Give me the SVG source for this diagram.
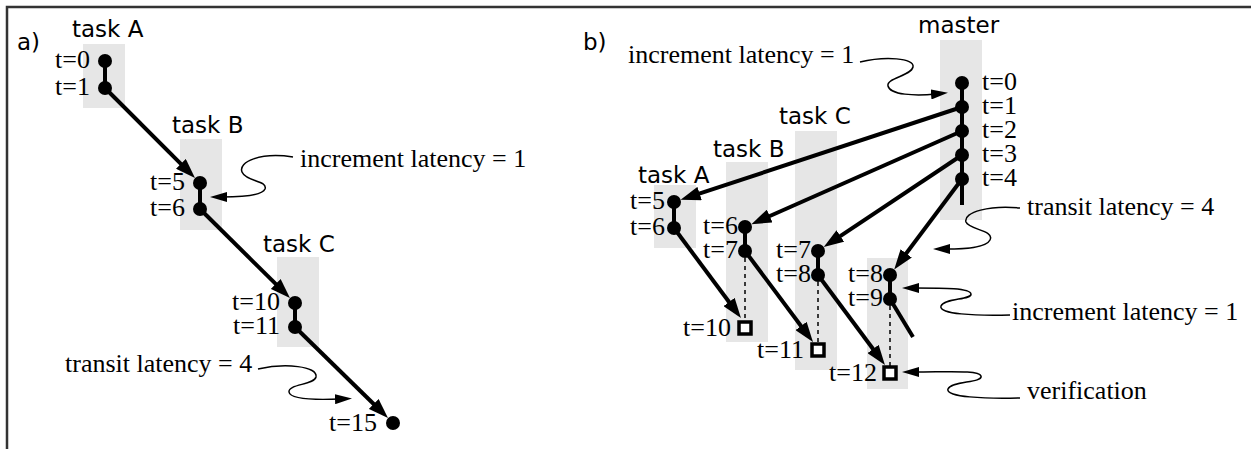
<svg xmlns="http://www.w3.org/2000/svg" width="1251" height="449" viewBox="0 0 1251 449">
<style>
.bg{fill:#e6e6e6}
.dot{fill:#000}
.sq{fill:#fff;stroke:#000;stroke-width:3.5}
.seg{stroke:#000;stroke-width:4;fill:none}
.arr{stroke:#000;stroke-width:4;fill:none;marker-end:url(#big)}
.thin{stroke:#000;stroke-width:1.5;fill:none;marker-end:url(#small)}
.dash{stroke:#000;stroke-width:1.5;stroke-dasharray:4 4;fill:none}
.t{font-family:"Liberation Serif","Times New Roman",serif;font-size:26px;fill:#000}
.e{text-anchor:end}
.s{font-family:"DejaVu Sans",sans-serif;font-size:23px;fill:#000}
.frame{stroke:#333;stroke-width:2.5;fill:none}
</style>
<defs>
<marker id="big" viewBox="0 0 20 14" markerWidth="20" markerHeight="14" refX="6" refY="7" orient="auto" markerUnits="userSpaceOnUse">
<path d="M0,0 L20,7 L0,14 Z" fill="#000"/>
</marker>
<marker id="small" viewBox="0 0 17 10" markerWidth="17" markerHeight="10" refX="5" refY="5" orient="auto" markerUnits="userSpaceOnUse">
<path d="M0,0 L17,5 L0,10 Z" fill="#000"/>
</marker>
</defs>
<rect width="1251" height="449" fill="#fff"/>
<path class="frame" d="M7,449 L7,7 L1251,7"/>
<g id="panel-labels">
<text class="s" x="17" y="50">a)</text>
<text class="s" x="583" y="50">b)</text>
</g>
<!-- panel a nodes -->
<g id="a-taskA">
<rect class="bg" x="83" y="44" width="42" height="64"/>
<text class="s" x="72" y="37">task A</text>
<line class="seg" x1="105" y1="61" x2="105" y2="88"/>
<circle class="dot" cx="105" cy="61" r="7"/>
<circle class="dot" cx="105" cy="88" r="7"/>
<text class="t e" x="90" y="68">t=0</text>
<text class="t e" x="90" y="95">t=1</text>
</g>
<g id="a-taskB">
<rect class="bg" x="180" y="139" width="42" height="91"/>
<text class="s" x="172" y="133">task B</text>
<line class="seg" x1="200" y1="183" x2="200" y2="209"/>
<circle class="dot" cx="200" cy="183" r="7"/>
<circle class="dot" cx="200" cy="209" r="7"/>
<text class="t e" x="185" y="190">t=5</text>
<text class="t e" x="185" y="216">t=6</text>
</g>
<g id="a-taskC">
<rect class="bg" x="277" y="257" width="42" height="90"/>
<text class="s" x="263" y="252">task C</text>
<line class="seg" x1="295" y1="303" x2="295" y2="327"/>
<circle class="dot" cx="295" cy="303" r="7"/>
<circle class="dot" cx="295" cy="327" r="7"/>
<text class="t e" x="280" y="310">t=10</text>
<text class="t e" x="280" y="334">t=11</text>
</g>
<g id="a-end">
<circle class="dot" cx="393" cy="423" r="7"/>
<text class="t e" x="377" y="431">t=15</text>
</g>
<!-- panel b nodes -->
<g id="b-master">
<rect class="bg" x="940" y="40" width="42" height="180"/>
<text class="s" x="918" y="33">master</text>
<line class="seg" x1="962" y1="83" x2="962" y2="205"/>
<circle class="dot" cx="962" cy="83" r="7"/>
<circle class="dot" cx="962" cy="107" r="7"/>
<circle class="dot" cx="962" cy="131" r="7"/>
<circle class="dot" cx="962" cy="155" r="7"/>
<circle class="dot" cx="962" cy="179" r="7"/>
<text class="t" x="982" y="90">t=0</text>
<text class="t" x="982" y="114">t=1</text>
<text class="t" x="982" y="138">t=2</text>
<text class="t" x="982" y="162">t=3</text>
<text class="t" x="982" y="186">t=4</text>
</g>
<g id="b-taskA">
<rect class="bg" x="654" y="185" width="42" height="63"/>
<text class="s" x="638" y="183">task A</text>
<line class="seg" x1="674" y1="202" x2="674" y2="228"/>
<circle class="dot" cx="674" cy="202" r="7"/>
<circle class="dot" cx="674" cy="228" r="7"/>
<text class="t e" x="665" y="209">t=5</text>
<text class="t e" x="665" y="235">t=6</text>
</g>
<g id="b-taskB">
<rect class="bg" x="726" y="162" width="42" height="180"/>
<text class="s" x="713" y="157">task B</text>
<line class="seg" x1="745" y1="227" x2="745" y2="251"/>
<line class="dash" x1="745" y1="258" x2="745" y2="321"/>
<circle class="dot" cx="745" cy="227" r="7"/>
<circle class="dot" cx="745" cy="251" r="7"/>
<rect class="sq" x="739" y="322" width="12" height="12"/>
<text class="t e" x="738" y="234">t=6</text>
<text class="t e" x="738" y="258">t=7</text>
<text class="t e" x="731" y="336">t=10</text>
</g>
<g id="b-taskC">
<rect class="bg" x="795" y="131" width="42" height="239"/>
<text class="s" x="779" y="124">task C</text>
<line class="seg" x1="818" y1="251" x2="818" y2="275"/>
<line class="dash" x1="818" y1="282" x2="818" y2="343"/>
<circle class="dot" cx="818" cy="251" r="7"/>
<circle class="dot" cx="818" cy="275" r="7"/>
<rect class="sq" x="812" y="344" width="12" height="12"/>
<text class="t e" x="811" y="258">t=7</text>
<text class="t e" x="811" y="282">t=8</text>
<text class="t e" x="804" y="358">t=11</text>
</g>
<g id="b-taskD">
<rect class="bg" x="867" y="258" width="41" height="131"/>
<line class="seg" x1="890" y1="275" x2="890" y2="299"/>
<line class="dash" x1="890" y1="306" x2="890" y2="366"/>
<circle class="dot" cx="890" cy="275" r="7"/>
<circle class="dot" cx="890" cy="299" r="7"/>
<rect class="sq" x="884" y="367" width="12" height="12"/>
<text class="t e" x="883" y="282">t=8</text>
<text class="t e" x="883" y="306">t=9</text>
<text class="t e" x="877" y="381">t=12</text>
</g>
<!-- connectors -->
<g id="connectors">
<line class="arr" x1="105" y1="88" x2="185.1" y2="168.1"/>
<line class="arr" x1="200" y1="209" x2="280" y2="288.2"/>
<line class="arr" x1="295" y1="327" x2="378" y2="408.2"/>
<line class="arr" x1="962" y1="107" x2="693.9" y2="195.4"/>
<line class="arr" x1="962" y1="131" x2="764.2" y2="218.5"/>
<line class="arr" x1="962" y1="155" x2="835.4" y2="239.3"/>
<line class="arr" x1="962" y1="179" x2="902.6" y2="258.2"/>
<line class="arr" x1="674" y1="228" x2="732.6" y2="306.8"/>
<line class="arr" x1="745" y1="251" x2="804.6" y2="330.8"/>
<line class="arr" x1="818" y1="275" x2="876.6" y2="353.8"/>
<line class="seg" x1="890" y1="299" x2="913" y2="337"/>
<path class="thin" d="M293,157 C260,152 238,162 242,172 C246,182 268,180 265,189 C262,196 240,197 222,197"/>
<path class="thin" d="M258,369 C285,363 318,366 316,377 C314,385 288,384 289,392 C290,399 315,400 340,399"/>
<path class="thin" d="M860,62 C885,56 915,58 913,67 C911,76 886,78 888,86 C890,95 915,96 936,94"/>
<path class="thin" d="M1020,208 C990,205 963,212 966,222 C969,230 995,230 990,240 C986,248 965,249 945,249"/>
<path class="thin" d="M1010,315 C975,316 938,314 941,306 C944,298 972,300 971,294 C970,288 945,288 914,288"/>
<path class="thin" d="M1020,398 C985,399 945,397 948,389 C951,381 983,383 981,376 C979,370 950,372 914,372"/>
</g>
<g id="annotations">
<text class="t" x="300" y="167">increment latency = 1</text>
<text class="t" x="65" y="372">transit latency = 4</text>
<text class="t" x="628" y="63">increment latency = 1</text>
<text class="t" x="1027" y="215">transit latency = 4</text>
<text class="t" x="1012" y="320">increment latency = 1</text>
<text class="t" x="1027" y="399">verification</text>
</g>
</svg>
